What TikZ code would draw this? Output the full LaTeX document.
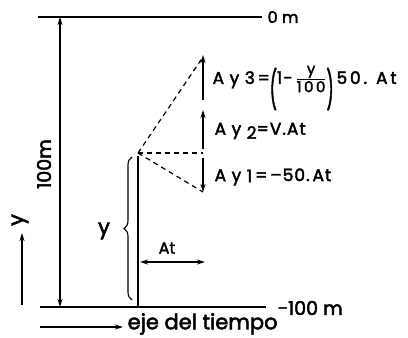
\documentclass[tikz,border=0pt]{standalone}
\usepackage{amsmath}
\usepackage{fontspec}
\setmainfont{Poppins}[FakeBold=2.5]
\usetikzlibrary{arrows.meta,decorations.pathreplacing}
\newcommand{\bigpar}[1]{\raisebox{-0.55\height}[0pt][0pt]{\scalebox{0.9}[2.2]{#1}}}
\newcommand{\fr}{\fontsize{15}{15}\selectfont}
\begin{document}
\begin{tikzpicture}[x=1pt,y=-1pt, line width=1.3pt,
  tip/.tip={Stealth[length=8pt,width=5pt]},
  arr/.style={-tip},
  darr/.style={tip-tip},
  dsh/.style={dash pattern=on 5pt off 4pt, line width=1.2pt},
  lbl/.style={inner sep=0pt, font=\fontsize{16}{16}\selectfont},
  inc/.style={inner sep=0pt, anchor=west, font=\fontsize{17}{17}\selectfont\addfontfeature{LetterSpace=6}},
  big/.style={inner sep=0pt, font=\fontsize{21}{21}\selectfont}]
\useasboundingbox (0,0) rectangle (408,338);
% horizontal reference lines
\coordinate (tl) at (38,17); \coordinate (tr) at (262,17);
\coordinate (bl) at (40,307); \coordinate (br) at (266,307);
\draw (tl) -- (tr);
\draw (bl) -- (br);
\node[lbl, anchor=west] (zero) at (267,17) {0 m};
\node[lbl, anchor=west, font=\fontsize{19}{19}\selectfont] (hund) at (277,308) {-100 m};
% 100 m dimension
\coordinate (a1) at (60,17); \coordinate (a2) at (60,307);
\draw[darr] (a1) -- (a2);
\node[lbl, rotate=90, font=\fontsize{19}{19}\selectfont] (lab100) at (44,164) {100m};
% stem
\coordinate (P) at (138,153);
\coordinate (S0) at (138,156);
\coordinate (S) at (138,307);
\draw (S0) -- (S);
% brace
\coordinate (b1) at (132,300); \coordinate (b2) at (132,157);
\draw[line width=1.1pt, decorate, decoration={brace, amplitude=8pt}] (b1) -- (b2);
\node[big] (yb) at (104,231) {y};
% dashed construction
\coordinate (D3) at (203,57);
\coordinate (D2) at (203,153);
\coordinate (D1) at (203,192);
\draw[dsh] (P) -- (D3);
\draw[dsh] (P) -- (D2);
\draw[dsh] (P) -- (D1);
% increments
\coordinate (u3) at (203,100); \coordinate (v3) at (203,55);
\coordinate (u2) at (203,149); \coordinate (v2) at (203,110);
\coordinate (u1) at (203,158); \coordinate (v1) at (203,192);
\draw[arr] (u3) -- (v3);
\draw[arr] (u2) -- (v2);
\draw[arr] (u1) -- (v1);
\node[inc] (l3) at (212,79) {A y 3\,=\bigpar{(}1-\,$\genfrac{}{}{1.1pt}{}{\mbox{\fr y}}{\mbox{\fr 1\,0\,0}}$\bigpar{)}\hspace{3pt}5\,0\,.\hspace{9pt}A\,t};
\node[inc] (l2) at (214,131) {A y \raisebox{-4pt}{2}=V.At};
\node[inc] (l1) at (214,177) {A y \raisebox{-1pt}{1}\,=\,–50.\,At};
% delta t
\node[lbl] (dt) at (167,248) {At};
\coordinate (t1) at (140,262); \coordinate (t2) at (205,262);
\draw[darr] (t1) -- (t2);
% axes hints
\node[big, rotate=90] (yl) at (20,220) {y};
\coordinate (ya) at (22,305); \coordinate (yb2) at (22,233);
\draw[arr] (ya) -- (yb2);
\coordinate (ea) at (40,327); \coordinate (eb) at (123,327);
\draw[arr] (ea) -- (eb);
\node[big, anchor=west] (eje) at (127,324) {eje del tiempo};
\end{tikzpicture}
\end{document}
